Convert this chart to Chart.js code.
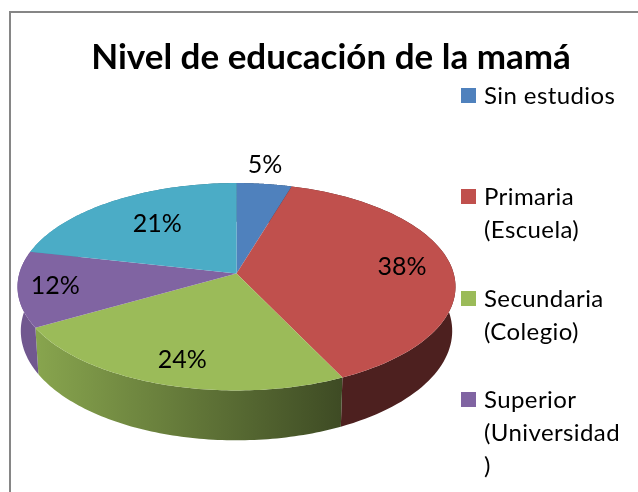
<!DOCTYPE html>
<html><head><meta charset="utf-8">
<style>html,body{margin:0;padding:0;background:#fff}canvas{display:block}</style>
<script src="https://cdn.jsdelivr.net/npm/chart.js@4"></script>
</head><body><canvas id="c" width="638" height="492"></canvas>
<script>
const chartTitle = "Nivel de educación de la mamá";
const categories = ["Sin estudios","Primaria (Escuela)","Secundaria (Colegio)","Superior (Universidad)","Otros"];
const shares = [4.6,38.3,23.8,11.8,21.5];
const pctLabels = ["5%","38%","24%","12%","21%"];
const colors = ["#4F81BD","#C0504D","#9BBB59","#8064A2","#4BACC6"];
const legendLines = [["Sin estudios"],["Primaria","(Escuela)"],["Secundaria","(Colegio)"],["Superior","(Universidad",")"]];
const labelRadii = [1.24,0.77,0.8,0.83,0.67];
const labelNudge = [-5,0,3,0,6];

const P = {cx:236.5, cy:273.5, A:217.2, B:102, c:0.1278, depth:43.5, baseShrink:0.985};
function proj(a, r, dz){
  const u = r*Math.cos(a), v = r*Math.sin(a);
  const s = 1/(1-P.c*v);
  return [P.cx+P.A*u*s*(dz?P.baseShrink:1), P.cy+P.B*v*s+(dz||0)*s];
}
function shade(hex,f){
  const n=parseInt(hex.slice(1),16);
  return `rgb(${Math.round((n>>16)*f)},${Math.round(((n>>8)&255)*f)},${Math.round((n&255)*f)})`;
}
const pie3d = {
  id:'pie3d',
  beforeDatasetsDraw(chart){
    const ctx=chart.ctx, arcs=chart.getDatasetMeta(0).data;
    ctx.save();
    ctx.filter='blur(0.6px)';
    arcs.forEach(arc=>{
      const col=arc.options.backgroundColor;
      const g=ctx.createLinearGradient(35,0,342,0);
      g.addColorStop(0,shade(col,0.88));
      g.addColorStop(1,shade(col,0.40));
      ctx.fillStyle=g;
      ctx.beginPath();
      const n=80;
      for(let i=0;i<=n;i++){const p=proj(arc.startAngle+(arc.endAngle-arc.startAngle)*i/n,1,0);i?ctx.lineTo(p[0],p[1]):ctx.moveTo(p[0],p[1]);}
      for(let i=n;i>=0;i--){const p=proj(arc.startAngle+(arc.endAngle-arc.startAngle)*i/n,1,P.depth);ctx.lineTo(p[0],p[1]);}
      ctx.closePath();ctx.fill();
    });
    arcs.forEach(arc=>{
      ctx.fillStyle=arc.options.backgroundColor;
      ctx.beginPath();
      ctx.moveTo(P.cx,P.cy);
      const n=80;
      for(let i=0;i<=n;i++){const p=proj(arc.startAngle+(arc.endAngle-arc.startAngle)*i/n,1,0);ctx.lineTo(p[0],p[1]);}
      ctx.closePath();ctx.fill();
    });
    ctx.restore();
    return false;
  },
  afterDraw(chart){
    const ctx=chart.ctx, arcs=chart.getDatasetMeta(0).data;
    ctx.save();
    ctx.strokeStyle='#868686';ctx.lineWidth=2;
    ctx.beginPath();ctx.moveTo(10,492);ctx.lineTo(10,12);ctx.lineTo(638,12);ctx.stroke();
    ctx.fillStyle='#000';ctx.font='25px Lato';ctx.textAlign='center';ctx.textBaseline='middle';
    arcs.forEach((arc,i)=>{
      const p=proj((arc.startAngle+arc.endAngle)/2,labelRadii[i],0);
      ctx.fillText(pctLabels[i],p[0]+labelNudge[i],p[1]);
    });
    ctx.font='24px Lato';
    ctx.textAlign='left';ctx.textBaseline='alphabetic';ctx.letterSpacing='0.4px';
    const tops=[88,189,291,392];
    legendLines.forEach((lines,i)=>{
      ctx.fillStyle=colors[i];
      ctx.fillRect(461,tops[i],15,15);
      ctx.fillStyle='#000';
      lines.forEach((t,j)=>ctx.fillText(t,484,tops[i]+16+j*33));
    });
    ctx.restore();
  }
};
new Chart(document.getElementById('c'),{
  type:'pie',
  data:{labels:categories,datasets:[{data:shares,backgroundColor:colors,borderWidth:0}]},
  options:{
    responsive:false,animation:false,
    layout:{padding:{left:24}},
    plugins:{
      legend:{display:false},tooltip:{enabled:false},
      title:{display:true,text:chartTitle,color:'#000',font:{family:'Lato',size:35,weight:'bold'},padding:{top:37,bottom:10}}
    }
  },
  plugins:[pie3d]
});
</script></body></html>
